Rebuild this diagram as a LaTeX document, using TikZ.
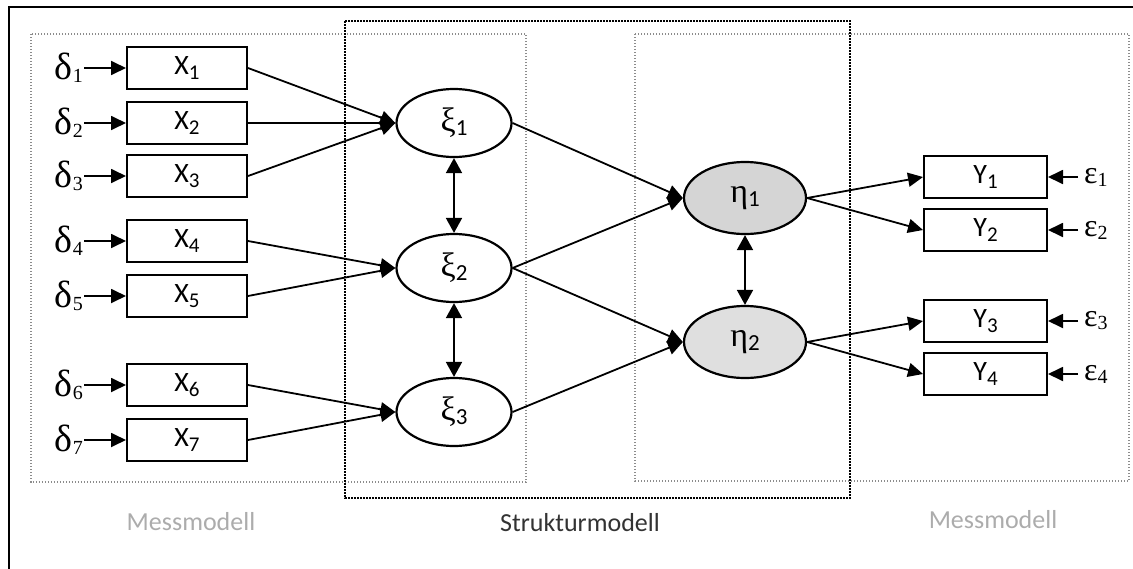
\documentclass[tikz,border=0pt]{standalone}
\usepackage{fontspec}
\setmainfont{Carlito}
\newfontfamily\grk{Liberation Serif}
\usetikzlibrary{arrows.meta,shapes.geometric}

% indicator / error / latent labels
\newcommand{\ind}[2]{{\fontsize{28}{30}\selectfont #1\raisebox{-5pt}{\fontsize{21}{22}\selectfont #2}}}
\newcommand{\err}[3]{{\grk\fontsize{#3}{40}\selectfont #1\raisebox{-3pt}{\fontsize{20}{20}\selectfont #2}}}
\newcommand{\lat}[2]{{\grk\fontsize{34}{36}\selectfont #1\raisebox{-4pt}{\rmfamily\fontsize{23}{24}\selectfont #2}}}

\tikzset{
  mv/.style={draw, line width=2pt, rectangle, minimum width=120pt, minimum height=42pt, inner sep=0pt},
  lv/.style={draw, line width=2.2pt, ellipse, minimum width=115pt, minimum height=68pt, inner sep=0pt, fill=white},
  lvy/.style={lv, minimum width=122pt, minimum height=72pt},
  errlab/.style={inner sep=1pt},
  tip/.style={-{Triangle[length=15pt,width=14pt]}, line width=1.8pt},
  bitip/.style={{Triangle[length=15pt,width=16pt]}-{Triangle[length=15pt,width=16pt]}, line width=1.8pt},
  graybox/.style={draw=gray!90, line width=1.5pt, dash pattern=on 1.4pt off 1.6pt},
  blackbox/.style={draw=black, line width=1.9pt, dash pattern=on 1.6pt off 1.4pt},
  seclab/.style={font=\fontsize{26}{30}\selectfont},
}

\begin{document}
\begin{tikzpicture}[x=1pt,y=-1pt]
\useasboundingbox (0,0) rectangle (1133,568);

% outer frame
\draw[line width=2pt] (9,600) -- (9,7) -- (1160,7);

% measurement and structural regions
\draw[graybox] (31,34) rectangle (526,482);
\draw[graybox] (635,34) rectangle (1129,481);
\draw[blackbox] (345,21) rectangle (850,498);

% exogenous indicators
\foreach \i/\y in {1/68,2/123,3/176,4/241,5/296,6/385,7/440}{
  \node[mv] (x\i) at (187,\y) {\ind{X}{\i}};
  \node[errlab, anchor=east] (d\i) at (84,\y) {\err{δ}{\i}{38}};
  \draw[tip] (d\i.east) -- (x\i.west);
}

% endogenous indicators
\foreach \i/\y in {1/177,2/230,3/321,4/374}{
  \node[mv, minimum width=123pt] (y\i) at (985.5,\y) {\ind{Y}{\i}};
  \node[errlab, anchor=west] (e\i) at (1078,\y) {\hspace{5pt}\err{ε}{\i}{32}};
  \draw[tip] (e\i.west) -- (y\i.east);
}

% latent variables
\node[lv] (xi1) at (454,123) {\lat{ξ}{1}};
\node[lv] (xi2) at (454,268) {\lat{ξ}{2}};
\node[lv] (xi3) at (454,412) {\lat{ξ}{3}};
\node[lvy, fill=gray!33] (eta1) at (745,198) {\lat{η}{1}};
\node[lvy, fill=gray!25] (eta2) at (745,342) {\lat{η}{2}};

% measurement paths
\foreach \i in {1,2,3}{\draw[tip] (x\i.east) -- (xi1.west);}
\foreach \i in {4,5}{\draw[tip] (x\i.east) -- (xi2.west);}
\foreach \i in {6,7}{\draw[tip] (x\i.east) -- (xi3.west);}
\draw[tip] (eta1.east) -- (y1.west);
\draw[tip] (eta1.east) -- (y2.west);
\draw[tip] (eta2.east) -- (y3.west);
\draw[tip] (eta2.east) -- (y4.west);

% structural paths
\draw[tip] (xi1.east) -- (eta1.west);
\draw[tip] (xi2.east) -- (eta1.west);
\draw[tip] (xi2.east) -- (eta2.west);
\draw[tip] (xi3.east) -- (eta2.west);

% correlations
\draw[bitip] (xi1.south) -- (xi2.north);
\draw[bitip] (xi2.south) -- (xi3.north);
\draw[bitip] (eta1.south) -- (eta2.north);

% section labels
\node[seclab, text=gray!65] (lm) at (191,522) {Messmodell};
\node[seclab, text=black!80] (lsm) at (580,523) {Strukturmodell};
\node[seclab, text=gray!65] (rm) at (993,520) {Messmodell};
\end{tikzpicture}
\end{document}
